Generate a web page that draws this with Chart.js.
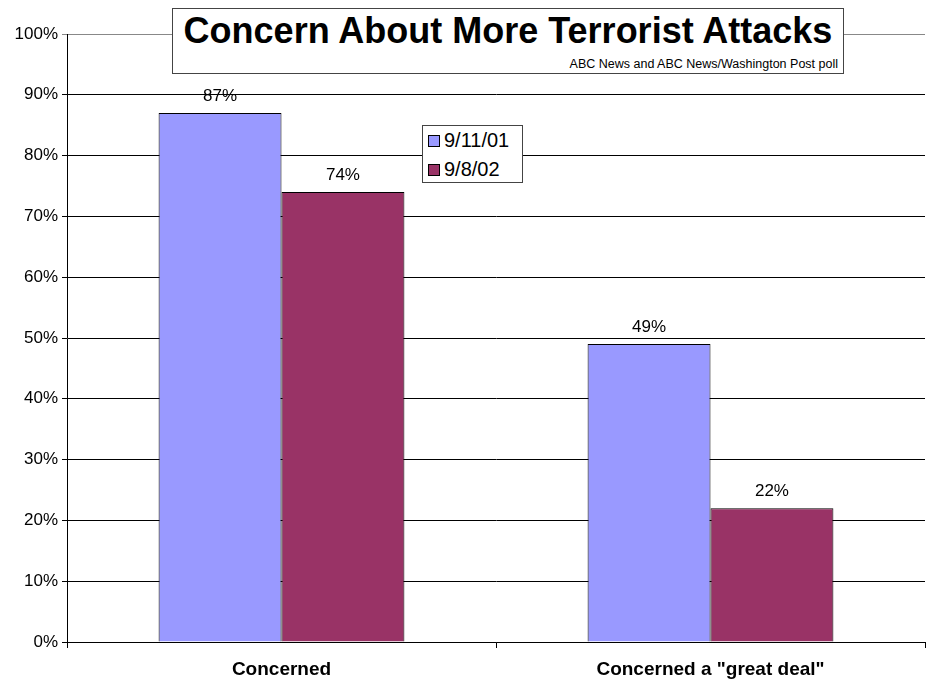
<!DOCTYPE html>
<html><head><meta charset="utf-8">
<script src="https://cdn.jsdelivr.net/npm/chart.js@4/dist/chart.umd.min.js"></script>
<style>
html,body{margin:0;padding:0;background:#fff;}
#wrap{position:relative;width:931px;height:683px;font-family:"Liberation Sans",Arial,sans-serif;}
canvas{position:absolute;left:0;top:0;}
#titlebox{position:absolute;left:172px;top:8px;width:670px;height:64px;border:1px solid #444;background:#fff;}
#title{position:absolute;left:0;right:0;top:4px;text-align:center;font-weight:bold;font-size:36px;line-height:36px;color:#000;white-space:nowrap;}
#subtitle{position:absolute;right:5px;top:48px;font-size:12.5px;line-height:14px;color:#000;white-space:nowrap;}
#legend{position:absolute;left:422px;top:125px;width:99px;height:56px;border:1px solid #444;background:#fff;}
.li{position:absolute;left:5px;font-size:20px;line-height:22px;color:#000;white-space:nowrap;}
.sw{display:inline-block;width:10px;height:10px;border:1px solid #000;margin-right:4px;vertical-align:0px;}
</style></head>
<body><div id="wrap">
<canvas id="c" width="931" height="683"></canvas>
<div id="titlebox"><div id="title"></div><div id="subtitle"></div></div>
<div id="legend"></div>
</div>
<script>
const categories = ["Concerned", "Concerned a \"great deal\""];
const seriesNames = ["9/11/01", "9/8/02"];
const values911 = [87, 49];
const values902 = [74, 22];
const yTicks = [0,10,20,30,40,50,60,70,80,90,100];
const titleText = "Concern About More Terrorist Attacks";
const subtitleText = "ABC News and ABC News/Washington Post poll";
const colors = ["#9999FF", "#993366"];

document.getElementById('title').textContent = titleText;
document.getElementById('subtitle').textContent = subtitleText;
const leg = document.getElementById('legend');
seriesNames.forEach((n,i)=>{
  const d = document.createElement('div');
  d.className='li'; d.style.top = (3 + i*29) + 'px';
  const s = document.createElement('span'); s.className='sw'; s.style.background = colors[i];
  d.appendChild(s); d.appendChild(document.createTextNode(n));
  leg.appendChild(d);
});

const labelPlugin = {
  id:'barLabels',
  afterDatasetsDraw(chart){
    const ctx = chart.ctx;
    ctx.save();
    ctx.font = '17px "Liberation Sans", Arial, sans-serif';
    ctx.fillStyle = '#000';
    ctx.textAlign = 'center';
    ctx.textBaseline = 'bottom';
    chart.data.datasets.forEach((ds, di)=>{
      chart.getDatasetMeta(di).data.forEach((bar, i)=>{
        ctx.fillText(ds.data[i] + '%', bar.x, bar.y - 8);
      });
    });
    ctx.restore();
  }
};

new Chart(document.getElementById('c'), {
  type:'bar',
  data:{
    labels: categories,
    datasets: [
      {label: seriesNames[0], data: values911, backgroundColor: colors[0], borderColor:'#000', borderWidth:1},
      {label: seriesNames[1], data: values902, backgroundColor: colors[1], borderColor:'#000', borderWidth:1}
    ]
  },
  options:{
    responsive:false, animation:false,
    layout:{padding:{left:0, top:34, right:6, bottom:0}},
    datasets:{bar:{categoryPercentage:0.573, barPercentage:1}},
    plugins:{legend:{display:false}, title:{display:false}, tooltip:{enabled:false}},
    scales:{
      x:{
        offset:true,
        grid:{display:true, drawOnChartArea:false, drawTicks:true, tickLength:6, color:'#000', offset:true},
        border:{display:true, color:'#000', width:1},
        ticks:{color:'#000', padding:10, font:{family:'"Liberation Sans", Arial, sans-serif', size:19, weight:'bold'}},
        afterFit(s){ s.height = 41; }
      },
      y:{
        min:0, max:100,
        afterBuildTicks(s){ s.ticks = yTicks.map(v=>({value:v})); },
        grid:{color:(c)=> c.tick && c.tick.value===100 ? '#888' : '#000', tickLength:5, drawTicks:true},
        border:{display:true, color:'#000', width:1},
        ticks:{color:'#000', padding:4, callback:(v)=>v+'%', font:{family:'"Liberation Sans", Arial, sans-serif', size:17}},
        afterFit(s){ s.width = 67; }
      }
    }
  },
  plugins:[labelPlugin]
});
</script>
</body></html>
